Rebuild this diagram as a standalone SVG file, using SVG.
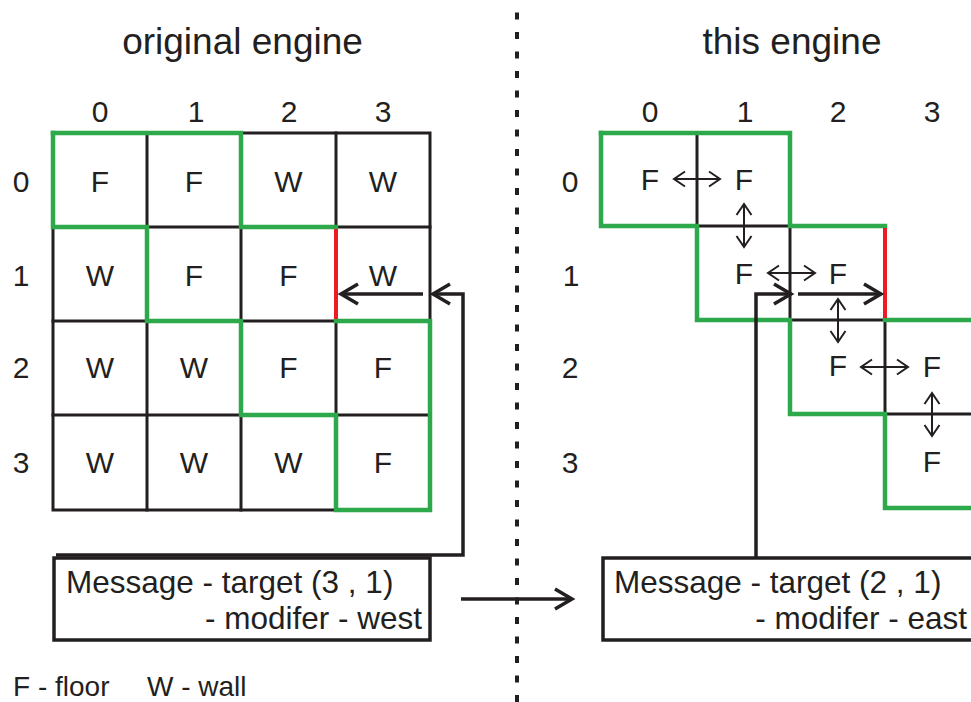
<svg xmlns="http://www.w3.org/2000/svg" width="971" height="702" viewBox="0 0 971 702">
<style>
text{font-family:"Liberation Sans",Arial,sans-serif;fill:#231F20}
.t{font-size:37px;text-anchor:middle}
.n{font-size:30px;text-anchor:middle}
.c{font-size:30px;text-anchor:middle}
.m{font-size:31.5px}
.lg{font-size:28px}
.blk{fill:none;stroke:#231F20;stroke-width:3;stroke-linecap:square}
.grn{fill:none;stroke:#2DA84A;stroke-width:4.5;stroke-linejoin:miter;stroke-linecap:square}
.red{fill:none;stroke:#ED1C24;stroke-width:4}
.box{fill:#fff;stroke:#231F20;stroke-width:3.5}
.thick{fill:none;stroke:#231F20;stroke-width:3.5;marker-end:url(#ah)}
.thin{fill:none;stroke:#231F20;stroke-width:2;marker-end:url(#sh);marker-start:url(#sh)}
.div{fill:none;stroke:#231F20;stroke-width:4;stroke-dasharray:7 12.5}
</style>
<defs>
<marker id="ah" markerUnits="userSpaceOnUse" markerWidth="40" markerHeight="40" viewBox="0 0 40 40" refX="22" refY="20" orient="auto" overflow="visible">
<path d="M5,10 L22,20 L5,30" fill="none" stroke="#231F20" stroke-width="3.5"/>
</marker>
<marker id="sh" markerUnits="userSpaceOnUse" markerWidth="30" markerHeight="30" viewBox="0 0 30 30" refX="16" refY="15" orient="auto-start-reverse" overflow="visible">
<path d="M5,7.5 L16,15 L5,22.5" fill="none" stroke="#231F20" stroke-width="2"/>
</marker>
</defs>

<rect width="971" height="702" fill="#fff"/>

<g id="titles">
<text class="t" x="242.5" y="54">original engine</text>
<text class="t" x="792" y="54">this engine</text>
</g>

<line id="divider" class="div" x1="517" y1="12.5" x2="517" y2="702"/>

<g id="left-grid">
<g class="blk">
<rect x="53" y="133" width="377" height="377"/>
<line x1="147" y1="133" x2="147" y2="510"/>
<line x1="241" y1="133" x2="241" y2="510"/>
<line x1="336" y1="133" x2="336" y2="510"/>
<line x1="53" y1="227" x2="430" y2="227"/>
<line x1="53" y1="321" x2="430" y2="321"/>
<line x1="53" y1="415" x2="430" y2="415"/>
</g>
<path class="grn" d="M53,133 H241 V227 H336"/>
<path class="grn" d="M336,321 H430 V510 H336 V415 H241 V321 H147 V227 H53 V133"/>
<line class="red" x1="336" y1="229" x2="336" y2="319"/>
<g class="n">
<text x="100" y="122">0</text><text x="196" y="122">1</text><text x="289" y="122">2</text><text x="383" y="122">3</text>
<text x="21" y="191.5">0</text><text x="21" y="286">1</text><text x="21" y="378">2</text><text x="21" y="473">3</text>
</g>
<g class="c">
<text x="100" y="191.5">F</text><text x="194" y="191.5">F</text><text x="288.5" y="191.5">W</text><text x="383" y="191.5">W</text>
<text x="100" y="286">W</text><text x="194" y="286">F</text><text x="288.5" y="286">F</text><text x="383" y="286">W</text>
<text x="100" y="378">W</text><text x="194" y="378">W</text><text x="288.5" y="378">F</text><text x="383" y="378">F</text>
<text x="100" y="473">W</text><text x="194" y="473">W</text><text x="288.5" y="473">W</text><text x="383" y="473">F</text>
</g>
</g>

<g id="right-grid">
<g class="blk">
<line x1="697" y1="133" x2="697" y2="226"/>
<line x1="697" y1="226" x2="790" y2="226"/>
<line x1="790" y1="226" x2="790" y2="320"/>
<line x1="790" y1="320" x2="885" y2="320"/>
<line x1="885" y1="320" x2="885" y2="414"/>
<line x1="885" y1="414" x2="975" y2="414"/>
</g>
<path class="grn" d="M601,133 H790 V226 H885"/>
<path class="grn" d="M885,320 H975"/>
<path class="grn" d="M975,508 H885 V414 H790 V320 H697 V226 H601 V133"/>
<line class="red" x1="885" y1="228" x2="885" y2="318"/>
<g class="n">
<text x="650" y="122">0</text><text x="745" y="122">1</text><text x="838" y="122">2</text><text x="932" y="122">3</text>
<text x="570" y="191.5">0</text><text x="571" y="286">1</text><text x="570" y="378">2</text><text x="570" y="473">3</text>
</g>
<g class="c">
<text x="650" y="190">F</text><text x="744" y="190">F</text>
<text x="744" y="284">F</text><text x="838" y="284">F</text>
<text x="838" y="376">F</text><text x="932" y="377">F</text>
<text x="932" y="472">F</text>
</g>
</g>

<g id="message-left">
<rect class="box" x="54" y="558" width="376" height="82"/>
<text class="m" x="66" y="593">Message - target (3 , 1)</text>
<text class="m" x="422" y="629" text-anchor="end">- modifer - west</text>
</g>

<g id="message-right">
<rect class="box" x="603" y="558" width="390" height="82"/>
<text class="m" x="614" y="593">Message - target (2 , 1)</text>
<text class="m" x="967" y="629" text-anchor="end">- modifer - east</text>
</g>

<g id="legend">
<text class="lg" x="13" y="696">F - floor</text>
<text class="lg" x="147" y="696">W - wall</text>
</g>

<g id="connectors">
<polyline class="thick" points="56,555 463,555 463,294 433,294"/>
<line class="thick" x1="423" y1="294" x2="341" y2="294"/>
<polyline class="thick" points="756,557 756,294 791,294"/>
<line class="thick" x1="798" y1="294" x2="881" y2="294"/>
<line class="thick" x1="461" y1="599" x2="572" y2="599"/>
<line class="thin" x1="674" y1="179" x2="720" y2="179"/>
<line class="thin" x1="744" y1="204" x2="744" y2="247"/>
<line class="thin" x1="768" y1="273" x2="815" y2="273"/>
<line class="thin" x1="838" y1="299" x2="838" y2="342"/>
<line class="thin" x1="861" y1="367" x2="908" y2="367"/>
<line class="thin" x1="932" y1="393" x2="932" y2="436"/>
</g>
</svg>
